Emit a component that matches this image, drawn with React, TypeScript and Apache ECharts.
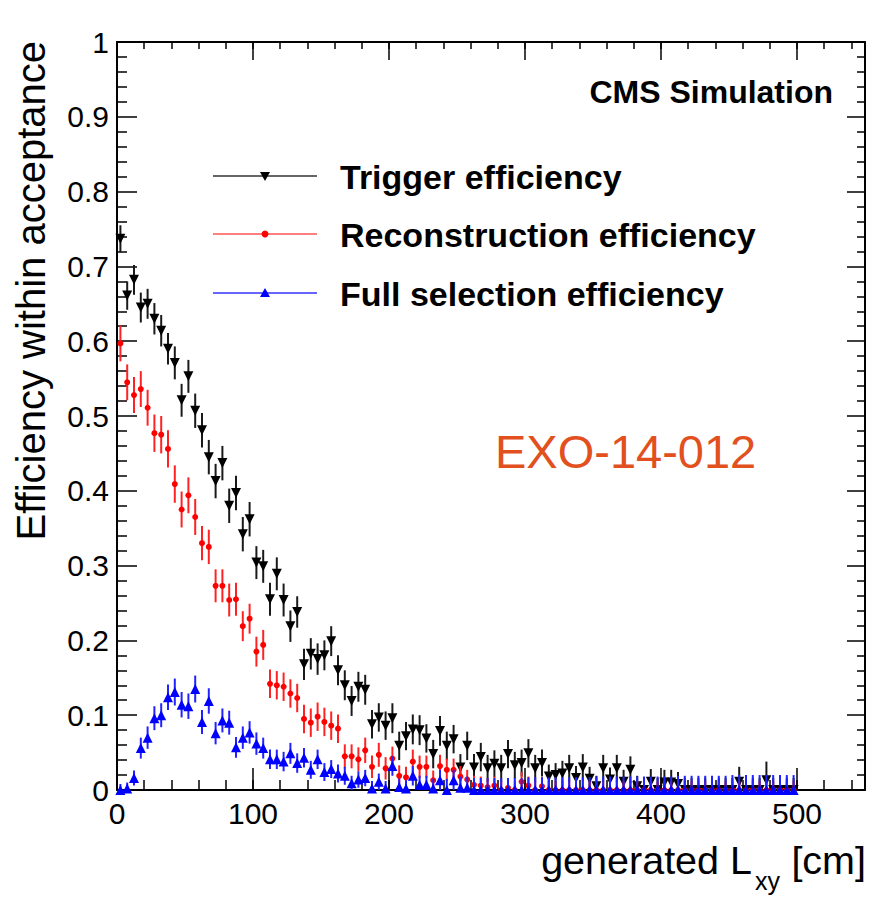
import React, { useEffect, useRef } from "react";
import * as echarts from "echarts";

// Histogram binning of generated L_xy [cm]
const BIN_WIDTH = 5;

// Trigger efficiency (black, inverted triangles)
const TRIGGER: number[] = [
  0.737, 0.661, 0.682, 0.645, 0.650, 0.630, 0.614, 0.590, 0.571, 0.521,
  0.553, 0.507, 0.481, 0.445, 0.413, 0.437, 0.380, 0.397, 0.342, 0.362,
  0.304, 0.299, 0.255, 0.289, 0.254, 0.219, 0.238, 0.168, 0.182, 0.175,
  0.180, 0.199, 0.160, 0.140, 0.119, 0.138, 0.134, 0.088, 0.097, 0.086,
  0.096, 0.059, 0.072, 0.081, 0.080, 0.069, 0.048, 0.079, 0.059, 0.068,
  0.030, 0.059, 0.030, 0.044, 0.029, 0.035, 0.029, 0.048, 0.033, 0.036,
  0.049, 0.029, 0.036, 0.018, 0.020, 0.022, 0.029, 0.016, 0.030, 0.015,
  0.005, 0.029, 0.014, 0.029, 0.011, 0.027, 0.005, 0.000, 0.011, 0.000,
  0.010, 0.010, 0.008, 0.000, 0.000, 0.000, 0.000, 0.000, 0.000, 0.000,
  0.000, 0.011, 0.000, 0.000, 0.000, 0.013, 0.000, 0.000, 0.000, 0.000,
];
const TRIGGER_ERR: number[] = [
  0.018, 0.019, 0.020, 0.020, 0.020, 0.021, 0.021, 0.021, 0.022, 0.022,
  0.022, 0.023, 0.023, 0.023, 0.023, 0.023, 0.023, 0.023, 0.023, 0.023,
  0.022, 0.022, 0.022, 0.022, 0.022, 0.021, 0.021, 0.021, 0.021, 0.021,
  0.020, 0.020, 0.020, 0.020, 0.020, 0.020, 0.020, 0.019, 0.019, 0.019,
  0.020, 0.019, 0.019, 0.020, 0.020, 0.019, 0.019, 0.020, 0.019, 0.019,
  0.018, 0.019, 0.018, 0.019, 0.018, 0.018, 0.018, 0.019, 0.018, 0.018,
  0.019, 0.018, 0.018, 0.016, 0.016, 0.017, 0.018, 0.016, 0.018, 0.016,
  0.014, 0.018, 0.016, 0.018, 0.016, 0.018, 0.014, 0.016, 0.017, 0.016,
  0.017, 0.017, 0.016, 0.016, 0.016, 0.016, 0.016, 0.016, 0.016, 0.016,
  0.016, 0.020, 0.016, 0.016, 0.016, 0.025, 0.016, 0.016, 0.016, 0.016,
];

// Reconstruction efficiency (red, dots)
const RECO: number[] = [
  0.597, 0.545, 0.528, 0.536, 0.511, 0.477, 0.475, 0.456, 0.409, 0.375,
  0.394, 0.365, 0.330, 0.325, 0.273, 0.273, 0.254, 0.255, 0.219, 0.229,
  0.185, 0.194, 0.142, 0.140, 0.138, 0.129, 0.123, 0.095, 0.090, 0.098,
  0.091, 0.086, 0.082, 0.045, 0.045, 0.041, 0.053, 0.031, 0.047, 0.029,
  0.042, 0.019, 0.017, 0.038, 0.031, 0.031, 0.013, 0.032, 0.027, 0.027,
  0.018, 0.014, 0.007, 0.006, 0.004, 0.006, 0.000, 0.003, 0.000, 0.011,
  0.006, 0.000, 0.005, 0.000, 0.000, 0.000, 0.000, 0.000, 0.000, 0.000,
  0.000, 0.000, 0.000, 0.000, 0.000, 0.000, 0.000, 0.000, 0.000, 0.000,
  0.000, 0.000, 0.000, 0.000, 0.000, 0.000, 0.000, 0.000, 0.000, 0.000,
  0.000, 0.000, 0.000, 0.000, 0.000, 0.000, 0.000, 0.000, 0.000, 0.000,
];
const RECO_ERR: number[] = [
  0.024, 0.024, 0.024, 0.024, 0.024, 0.025, 0.025, 0.025, 0.025, 0.024,
  0.024, 0.024, 0.023, 0.023, 0.022, 0.022, 0.022, 0.022, 0.020, 0.020,
  0.020, 0.020, 0.019, 0.019, 0.019, 0.019, 0.019, 0.019, 0.019, 0.019,
  0.019, 0.019, 0.019, 0.016, 0.016, 0.016, 0.017, 0.015, 0.016, 0.015,
  0.016, 0.014, 0.014, 0.016, 0.015, 0.015, 0.013, 0.015, 0.015, 0.015,
  0.014, 0.013, 0.012, 0.012, 0.011, 0.012, 0.012, 0.011, 0.012, 0.013,
  0.012, 0.012, 0.012, 0.012, 0.012, 0.012, 0.012, 0.012, 0.012, 0.012,
  0.012, 0.012, 0.012, 0.012, 0.012, 0.012, 0.012, 0.012, 0.012, 0.012,
  0.012, 0.012, 0.012, 0.012, 0.012, 0.012, 0.012, 0.012, 0.012, 0.012,
  0.012, 0.012, 0.012, 0.012, 0.012, 0.012, 0.012, 0.012, 0.012, 0.012,
];

// Full selection efficiency (blue, triangles)
const FULL: number[] = [
  0.000, 0.002, 0.016, 0.056, 0.070, 0.096, 0.100, 0.124, 0.131, 0.114,
  0.112, 0.135, 0.091, 0.119, 0.076, 0.093, 0.090, 0.057, 0.070, 0.077,
  0.062, 0.056, 0.041, 0.041, 0.038, 0.049, 0.036, 0.043, 0.027, 0.041,
  0.024, 0.028, 0.022, 0.019, 0.009, 0.014, 0.016, 0.002, 0.011, 0.002,
  0.032, 0.004, 0.002, 0.019, 0.007, 0.007, 0.002, 0.013, 0.000, 0.013,
  0.003, 0.003, 0.000, 0.000, 0.000, 0.000, 0.000, 0.000, 0.000, 0.000,
  0.000, 0.000, 0.000, 0.000, 0.000, 0.000, 0.000, 0.000, 0.000, 0.000,
  0.000, 0.000, 0.000, 0.000, 0.000, 0.000, 0.000, 0.000, 0.000, 0.000,
  0.000, 0.000, 0.000, 0.000, 0.000, 0.000, 0.000, 0.000, 0.000, 0.000,
  0.000, 0.000, 0.000, 0.000, 0.000, 0.000, 0.000, 0.000, 0.000, 0.000,
];
const FULL_ERR: number[] = [
  0.008, 0.008, 0.010, 0.014, 0.015, 0.016, 0.016, 0.017, 0.018, 0.017,
  0.017, 0.018, 0.016, 0.017, 0.015, 0.016, 0.016, 0.014, 0.015, 0.015,
  0.015, 0.014, 0.013, 0.013, 0.013, 0.014, 0.013, 0.013, 0.012, 0.013,
  0.012, 0.012, 0.012, 0.012, 0.010, 0.011, 0.011, 0.010, 0.011, 0.010,
  0.013, 0.011, 0.011, 0.013, 0.012, 0.012, 0.013, 0.014, 0.015, 0.014,
  0.015, 0.015, 0.016, 0.016, 0.016, 0.016, 0.016, 0.016, 0.016, 0.016,
  0.017, 0.017, 0.017, 0.017, 0.017, 0.017, 0.017, 0.017, 0.017, 0.017,
  0.018, 0.018, 0.018, 0.018, 0.018, 0.018, 0.018, 0.018, 0.018, 0.018,
  0.018, 0.018, 0.019, 0.019, 0.019, 0.019, 0.019, 0.019, 0.019, 0.019,
  0.020, 0.020, 0.020, 0.020, 0.020, 0.020, 0.020, 0.020, 0.020, 0.020,
];

const LEGEND_LABELS = ["Trigger efficiency", "Reconstruction efficiency", "Full selection efficiency"];
const X_TITLE_MAIN = "generated L";
const X_TITLE_SUB = "xy";
const X_TITLE_UNIT = "[cm]";
const Y_TITLE = "Efficiency within acceptance";
const CMS_LABEL = "CMS Simulation";
const ANALYSIS_LABEL = "EXO-14-012";

const FONT = "'Liberation Sans', Arial, Helvetica, sans-serif";

function toPoints(vals: number[], errs: number[]) {
  return vals.map((v, i) => [(i + 0.5) * BIN_WIDTH, v, errs[i]]);
}

function errorBarSeries(data: number[][], color: string, z: number) {
  return {
    type: "custom",
    xAxisIndex: 0,
    yAxisIndex: 0,
    data,
    z,
    silent: true,
    clip: false,
    encode: { x: 0, y: 1 },
    renderItem: (_params: any, api: any) => {
      const x = api.value(0);
      const y = api.value(1);
      const e = api.value(2);
      const top = api.coord([x, Math.min(1, y + e)]);
      const bot = api.coord([x, Math.max(0, y - e)]);
      return {
        type: "line",
        shape: { x1: top[0], y1: top[1], x2: bot[0], y2: bot[1] },
        style: { stroke: color, lineWidth: 2 },
      };
    },
  };
}

export default function App() {
  const ref = useRef<HTMLDivElement>(null);

  useEffect(() => {
    if (!ref.current) return;
    const chart = echarts.init(ref.current, undefined, { renderer: "svg" });

    const trig = toPoints(TRIGGER, TRIGGER_ERR);
    const reco = toPoints(RECO, RECO_ERR);
    const full = toPoints(FULL, FULL_ERR);

    const baseX = {
      type: "value",
      min: 0,
      max: 550,
      splitLine: { show: false },
      gridIndex: 0,
    };
    const baseY = {
      type: "value",
      min: 0,
      max: 1,
      interval: 0.1,
      splitLine: { show: false },
      gridIndex: 0,
    };

    const legendY = [176, 234, 293];
    const legendColors = ["#000000", "#ff0000", "#0000ff"];
    const legendLineColors = ["#333333", "#ff5555", "#3333ff"];
    const lx1 = 213, lx2 = 317, lmx = 265;

    const graphics: any[] = [];
    legendY.forEach((y, i) => {
      graphics.push({
        type: "line",
        shape: { x1: lx1, y1: y, x2: lx2, y2: y },
        style: { stroke: legendLineColors[i], lineWidth: 1.5 },
      });
      if (i === 0) {
        graphics.push({
          type: "polygon",
          shape: { points: [[lmx - 5, y - 4], [lmx + 5, y - 4], [lmx, y + 5]] },
          style: { fill: legendColors[i] },
        });
      } else if (i === 1) {
        graphics.push({
          type: "circle",
          shape: { cx: lmx, cy: y, r: 3.5 },
          style: { fill: legendColors[i] },
        });
      } else {
        graphics.push({
          type: "polygon",
          shape: { points: [[lmx - 5, y + 4], [lmx + 5, y + 4], [lmx, y - 5]] },
          style: { fill: legendColors[i] },
        });
      }
      graphics.push({
        type: "text",
        x: 340,
        y: y + 1,
        style: {
          text: LEGEND_LABELS[i],
          font: `bold 34px ${FONT}`,
          fill: "#000",
          align: "left",
          verticalAlign: "middle",
        },
      });
    });

    graphics.push({
      type: "text",
      x: 833,
      y: 92,
      style: { text: CMS_LABEL, font: `bold 32px ${FONT}`, fill: "#000", align: "right", verticalAlign: "middle" },
    });
    graphics.push({
      type: "text",
      x: 495,
      y: 451,
      style: { text: ANALYSIS_LABEL, font: `47px ${FONT}`, fill: "#e2501e", align: "left", verticalAlign: "middle" },
    });
    graphics.push({
      type: "text",
      x: 31,
      y: 41,
      rotation: Math.PI / 2,
      style: { text: Y_TITLE, font: `40px ${FONT}`, fill: "#000", align: "right", verticalAlign: "middle" },
    });
    graphics.push({
      type: "text",
      x: 752,
      y: 860,
      style: { text: X_TITLE_MAIN, font: `39.5px ${FONT}`, fill: "#000", align: "right", verticalAlign: "middle" },
    });
    graphics.push({
      type: "text",
      x: 755,
      y: 881,
      style: { text: X_TITLE_SUB, font: `25px ${FONT}`, fill: "#000", align: "left", verticalAlign: "middle" },
    });
    graphics.push({
      type: "text",
      x: 866,
      y: 860,
      style: { text: X_TITLE_UNIT, font: `39.5px ${FONT}`, fill: "#000", align: "right", verticalAlign: "middle" },
    });

    chart.setOption({
      animation: false,
      backgroundColor: "#ffffff",
      grid: { left: 117, right: 4, top: 42, bottom: 107, containLabel: false },
      xAxis: [
        {
          ...baseX,
          position: "bottom",
          interval: 100,
          axisLine: { show: true, onZero: false, lineStyle: { color: "#000", width: 2 } },
          axisTick: { show: true, inside: true, length: 22, lineStyle: { color: "#000", width: 1.5 } },
          axisLabel: {
            show: true,
            fontSize: 30,
            fontFamily: FONT,
            color: "#000",
            margin: 8,
            showMaxLabel: false,
            formatter: (v: number) => (v > 500 ? "" : String(v)),
          },
        },
        {
          ...baseX,
          position: "bottom",
          interval: 20,
          axisLine: { show: false, onZero: false },
          axisTick: { show: true, inside: true, length: 10, lineStyle: { color: "#000", width: 1.5 } },
          axisLabel: { show: false },
        },
        {
          ...baseX,
          position: "top",
          interval: 100,
          axisLine: { show: true, onZero: false, lineStyle: { color: "#000", width: 2 } },
          axisTick: { show: true, inside: true, length: 18, lineStyle: { color: "#000", width: 1.5 } },
          axisLabel: { show: false },
        },
        {
          ...baseX,
          position: "top",
          interval: 20,
          axisLine: { show: false, onZero: false },
          axisTick: { show: true, inside: true, length: 7, lineStyle: { color: "#000", width: 1.5 } },
          axisLabel: { show: false },
        },
      ],
      yAxis: [
        {
          ...baseY,
          position: "left",
          axisLine: { show: true, onZero: false, lineStyle: { color: "#000", width: 2 } },
          axisTick: { show: true, inside: true, length: 20, lineStyle: { color: "#000", width: 1.5 } },
          minorTick: { show: true, splitNumber: 5, length: 10, lineStyle: { color: "#000", width: 1.5 } },
          axisLabel: { show: true, fontSize: 30, fontFamily: FONT, color: "#000", margin: 8 },
        },
        {
          ...baseY,
          position: "right",
          axisLine: { show: true, onZero: false, lineStyle: { color: "#000", width: 2 } },
          axisTick: { show: true, inside: true, length: 18, lineStyle: { color: "#000", width: 1.5 } },
          minorTick: { show: true, splitNumber: 5, length: 8, lineStyle: { color: "#000", width: 1.5 } },
          axisLabel: { show: false },
        },
      ],
      series: [
        errorBarSeries(trig, "#1a1a1a", 2),
        {
          type: "scatter",
          name: LEGEND_LABELS[0],
          data: trig.map((p) => [p[0], p[1]]),
          symbol: "triangle",
          symbolRotate: 180,
          symbolSize: 10,
          itemStyle: { color: "#000", opacity: 1 },
          z: 3,
          silent: true,
        },
        errorBarSeries(reco, "#ff2222", 4),
        {
          type: "scatter",
          name: LEGEND_LABELS[1],
          data: reco.map((p) => [p[0], p[1]]),
          symbol: "circle",
          symbolSize: 6,
          itemStyle: { color: "#ff0000", opacity: 1 },
          z: 5,
          silent: true,
        },
        errorBarSeries(full, "#2222ff", 6),
        {
          type: "scatter",
          name: LEGEND_LABELS[2],
          data: full.map((p) => [p[0], p[1]]),
          symbol: "triangle",
          symbolSize: 10,
          itemStyle: { color: "#0000ff", opacity: 1 },
          z: 7,
          silent: true,
        },
      ],
      graphic: graphics,
    });

    return () => chart.dispose();
  }, []);

  return (
    <div
      ref={ref}
      style={{ position: "fixed", left: 0, top: 0, width: 869, height: 897, background: "#fff" }}
    />
  );
}
